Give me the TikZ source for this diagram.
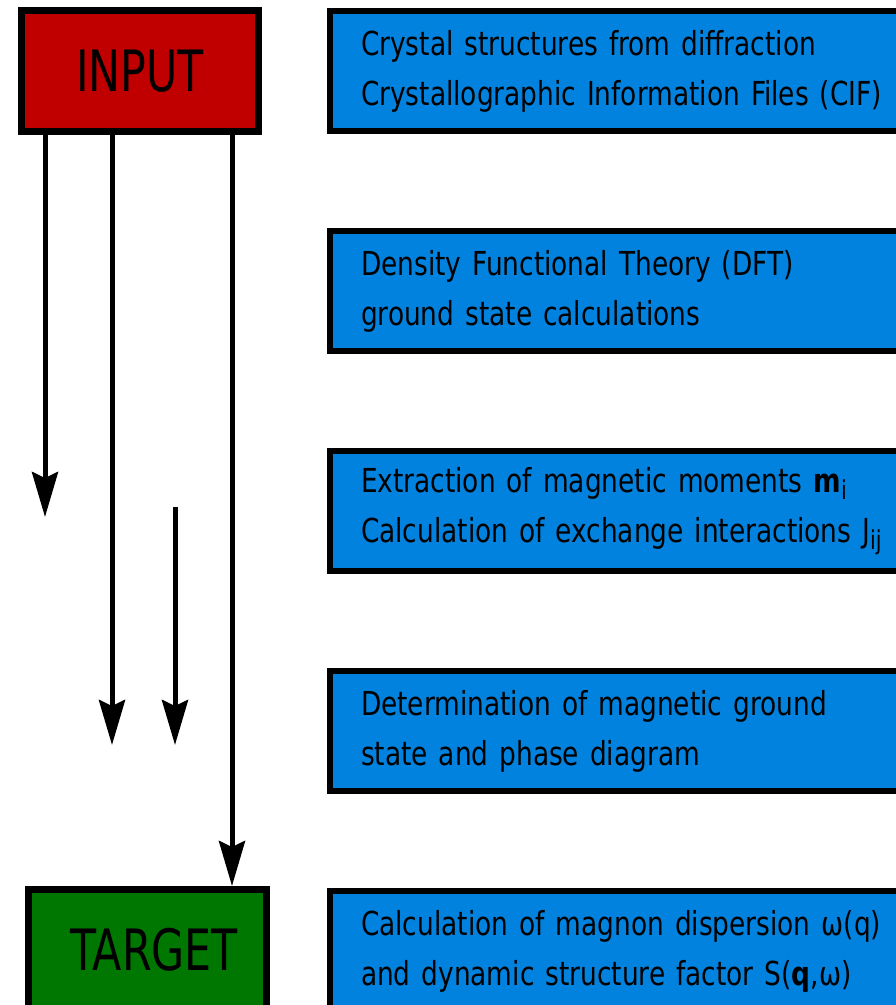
\documentclass[tikz,border=0pt]{standalone}
\usepackage{xcolor}
\usepackage{fontspec}
\setmainfont{DejaVu Sans}[FakeStretch=0.75]
\newfontfamily\stepfont{DejaVu Sans}[FakeStretch=0.8]
\usepackage{tikz}
\usetikzlibrary{positioning,arrows.meta}

\definecolor{inputred}{HTML}{C00000}
\definecolor{targetgreen}{HTML}{007700}
\definecolor{stepblue}{HTML}{0082DE}

\newcommand{\lowsub}[1]{\raisebox{-7pt}{\fontsize{26}{26}\selectfont #1}}

\begin{document}
\begin{tikzpicture}[
        x=1pt, y=1pt,
        endbox/.style={
            draw,
            line width=7pt,
            minimum width=237pt,
            minimum height=121pt,
            inner sep=0pt,
            font=\fontsize{57}{60}\selectfont
        },
        stepbox/.style={
            draw,
            line width=6pt,
            fill=stepblue,
            align=left,
            inner xsep=31pt,
            inner ysep=0pt,
            text width=560pt,
            minimum height=120pt,
            font=\stepfont\fontsize{33}{50}\selectfont
        },
        flow/.style={-{Stealth[length=45pt, width=26pt, inset=6pt]}, line width=5pt}
    ]
        \useasboundingbox (0,0) rectangle (896,-1005);
        \clip (0,0) rectangle (896,-1005);

        \node[endbox, fill=inputred, anchor=north west] (input) at (18,-7) {INPUT};

        \node[stepbox, anchor=north west] (cif) at (327,-8) {
            Crystal structures from diffraction\\
            Crystallographic Information Files (CIF)
        };

        \node[stepbox, below=94pt of cif] (dft) {
            Density Functional Theory (DFT)\\
            ground state calculations
        };

        \node[stepbox, below=94pt of dft] (exch) {
            Extraction of magnetic moments \textbf{m}\lowsub{i}\\
            Calculation of exchange interactions J\lowsub{ij}
        };

        \node[stepbox, below=94pt of exch] (ground) {
            Determination of magnetic ground\\
            state and phase diagram
        };

        \node[stepbox, below=94pt of ground] (magnon) {
            Calculation of magnon dispersion ω(q)\\
            and dynamic structure factor S(\textbf{q},ω)
        };

        \node[endbox, fill=targetgreen, anchor=north west, minimum width=238pt]
            (target) at (25,-886) {\hspace*{13pt}TARGET};

        \coordinate (tipa) at (45,-517);
        \coordinate (tipb) at (112,-745);
        \coordinate (starc) at (175,-507);
        \coordinate (tipc) at (175,-745);
        \coordinate (colt) at (232,0);

        \draw[flow] (input.south -| tipa) -- (tipa);
        \draw[flow] (input.south -| tipb) -- (tipb);
        \draw[flow] (starc) -- (tipc);
        \draw[flow] (input.south -| colt) -- (target.north -| colt);
    \end{tikzpicture}
\end{document}
